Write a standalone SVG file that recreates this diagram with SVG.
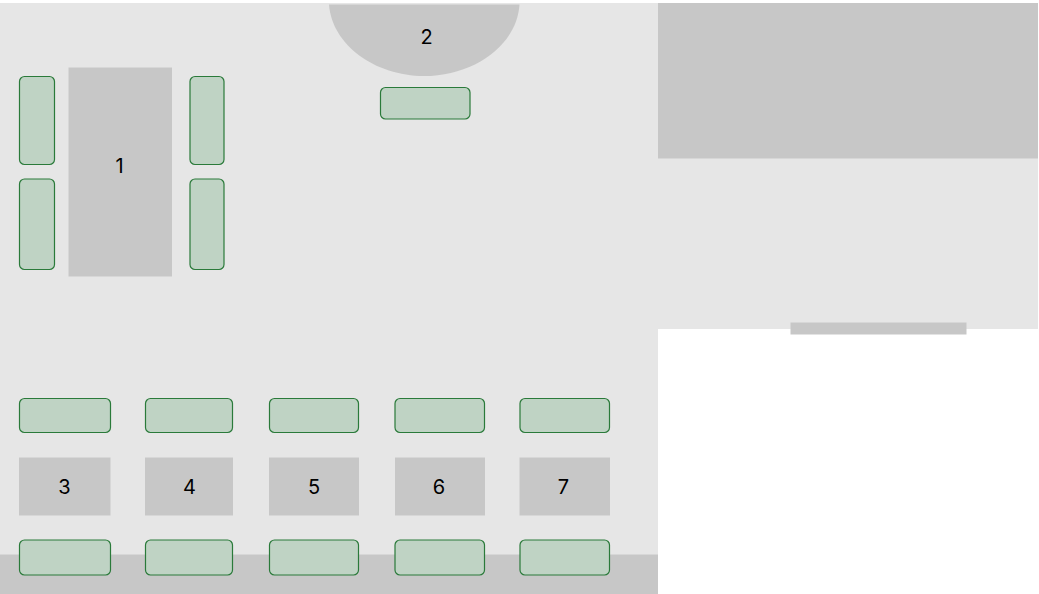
<svg xmlns="http://www.w3.org/2000/svg" width="1039" height="594" viewBox="0 0 1039 594">
  <style>
    .floor { fill: #e6e6e6; }
    .block { fill: #c7c7c7; }
    .seat { fill: #bfd3c4; stroke: #2a7a3a; stroke-width: 1.2; }
    text { font-family: "Inter", "Liberation Sans", sans-serif; font-size: 20px; fill: #000; text-anchor: middle; }
  </style>
  <rect width="1039" height="594" fill="#fff"/>
  <g id="floor-plan">
    <path class="floor" d="M0 3H1038V329H658V594H0Z"/>
    <rect class="block" x="0" y="554.500" width="658" height="39.500"/>
    <rect class="block" x="658" y="3" width="380" height="155.500"/>
    <rect class="block" x="790.500" y="322.500" width="176" height="12"/>
  </g>
  <g id="connectors"></g>
  <g id="node-1"><rect class="block" x="68.500" y="67.500" width="103.500" height="209"/><text x="119.500" y="173">1</text></g>
  <g id="node-2"><path class="block" d="M329 4.500H519.500C517 45 474 76 424 76C375 76 332 45 329 4.500Z"/><text x="426.500" y="43.500">2</text></g>
  <g id="node-3"><rect class="block" x="19" y="457.500" width="91.500" height="58"/><text x="64.500" y="494">3</text></g>
  <g id="node-4"><rect class="block" x="145" y="457.500" width="88" height="58"/><text x="189.500" y="494">4</text></g>
  <g id="node-5"><rect class="block" x="269" y="457.500" width="90" height="58"/><text x="314" y="494">5</text></g>
  <g id="node-6"><rect class="block" x="395" y="457.500" width="90" height="58"/><text x="439" y="494">6</text></g>
  <g id="node-7"><rect class="block" x="519.500" y="457.500" width="90.500" height="58"/><text x="563.500" y="494">7</text></g>
  <g id="seats">
    <rect class="seat" x="19.500" y="76.500" width="35" height="88" rx="5"/>
    <rect class="seat" x="19.500" y="179" width="35" height="90.500" rx="5"/>
    <rect class="seat" x="190" y="76.500" width="34" height="88" rx="5"/>
    <rect class="seat" x="190" y="179" width="34" height="90.500" rx="5"/>
    <rect class="seat" x="380.500" y="87.500" width="89.500" height="31.500" rx="5"/>
    <rect class="seat" x="19.500" y="398.500" width="91" height="34" rx="5"/>
    <rect class="seat" x="145.500" y="398.500" width="87" height="34" rx="5"/>
    <rect class="seat" x="269.500" y="398.500" width="89" height="34" rx="5"/>
    <rect class="seat" x="395" y="398.500" width="89.500" height="34" rx="5"/>
    <rect class="seat" x="520" y="398.500" width="89.500" height="34" rx="5"/>
    <rect class="seat" x="19.500" y="540" width="91" height="35" rx="5"/>
    <rect class="seat" x="145.500" y="540" width="87" height="35" rx="5"/>
    <rect class="seat" x="269.500" y="540" width="89" height="35" rx="5"/>
    <rect class="seat" x="395" y="540" width="89.500" height="35" rx="5"/>
    <rect class="seat" x="520" y="540" width="89.500" height="35" rx="5"/>
  </g>
</svg>
